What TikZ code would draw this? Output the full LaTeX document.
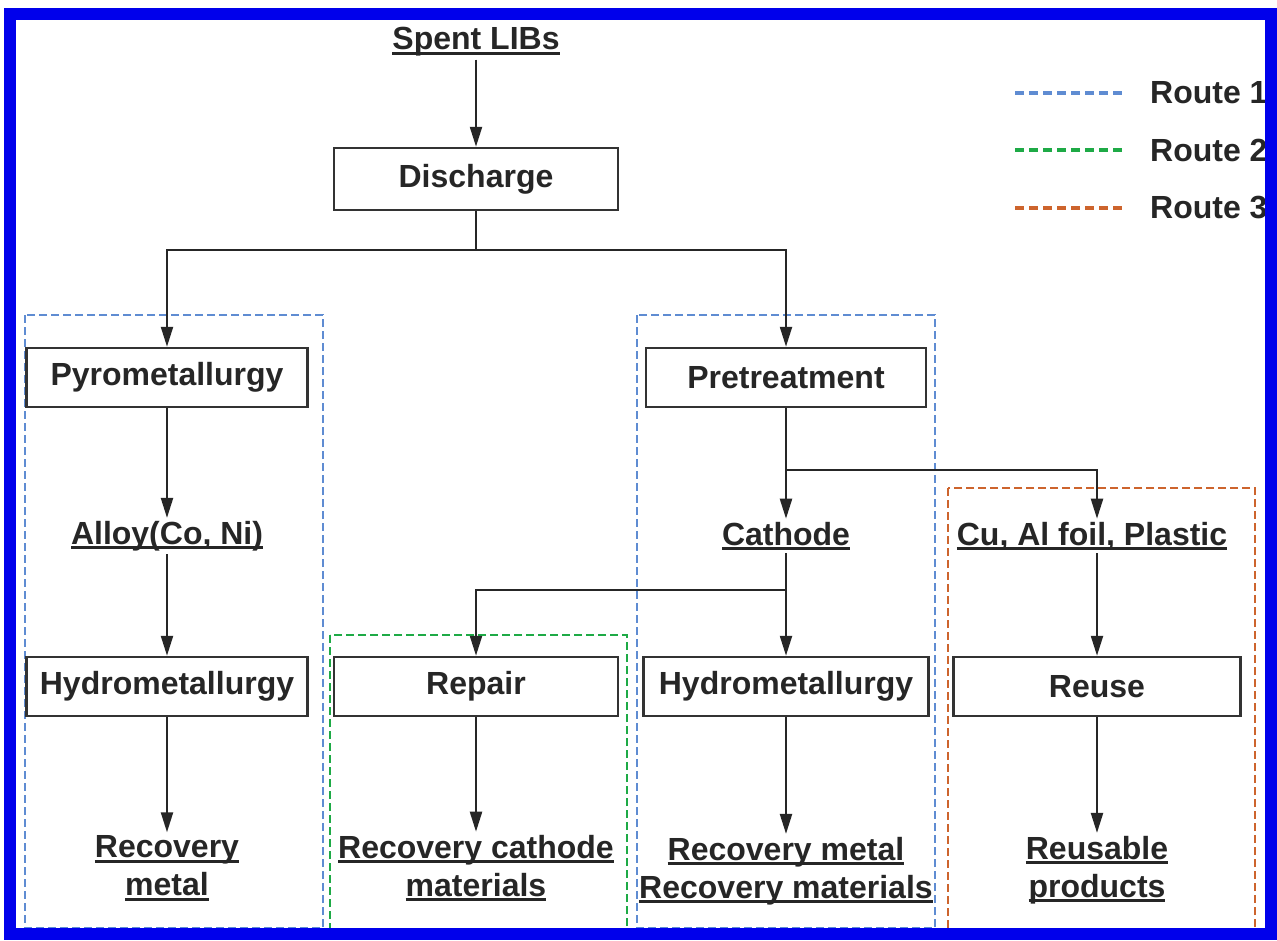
\documentclass[tikz,border=0pt]{standalone}
\usepackage{fontspec}
\setmainfont{Liberation Sans}
\usetikzlibrary{arrows.meta}
\definecolor{frameblue}{RGB}{0,0,235}
\definecolor{routeone}{RGB}{95,140,210}
\definecolor{routetwo}{RGB}{30,170,70}
\definecolor{routethree}{RGB}{205,100,45}
\newcommand\ultext[1]{\setbox0\hbox{#1}\rlap{\rule[-5pt]{\wd0}{2.8pt}}\box0}
\tikzset{
  every node/.style={font=\fontsize{32}{38}\selectfont\bfseries, text=black!85},
  stepbox/.style={draw=black!80, line width=2.5pt, minimum height=59pt, inner sep=0pt},
  label/.style={align=center, inner sep=3pt},
  arr/.style={draw=black!85, line width=2.2pt, -{Triangle[length=20pt,width=12pt]}},
  conn/.style={draw=black!85, line width=2.2pt},
  routebox/.style={line width=2.8pt, dash pattern=on 8pt off 4pt},
  legendline/.style={line width=3.5pt, dash pattern=on 9pt off 5pt},
}
\begin{document}
\begin{tikzpicture}[x=1pt,y=-1pt]
\useasboundingbox (0,0) rectangle (1277,940);
\fill[white] (0,0) rectangle (1277,940);

% route regions
\draw[routebox, routeone] (25,315) rectangle (323,928);
\draw[routebox, routeone] (637,315) rectangle (935,928);
\draw[routebox, routetwo] (330,635) rectangle (627,932);
\draw[routebox, routethree] (948,488) rectangle (1255,932);

% legend
\draw[legendline, routeone] (1015,93) -- (1125,93);
\draw[legendline, routetwo] (1015,150) -- (1125,150);
\draw[legendline, routethree] (1015,208) -- (1125,208);
\node[anchor=west, inner sep=0pt] (l1) at (1150,93) {Route 1};
\node[anchor=west, inner sep=0pt] (l2) at (1150,150) {Route 2};
\node[anchor=west, inner sep=0pt] (l3) at (1150,208) {Route 3};

% process steps
\node[label] (spent) at (476,42) {\ultext{Spent LIBs}};
\node[stepbox, minimum width=284pt, minimum height=62pt] (dis) at (476,179) {Discharge};
\node[stepbox, minimum width=281pt] (pyro) at (167,377.5) {Pyrometallurgy};
\node[label] (alloy) at (167,536) {\ultext{Alloy(Co, Ni)}};
\node[stepbox, minimum width=281pt] (hydA) at (167,686.5) {Hydrometallurgy};
\node[label] (recA) at (167,868) {\ultext{Recovery}\\\ultext{metal}};

\node[stepbox, minimum width=280pt] (pre) at (786,377.5) {Pretreatment};
\node[label] (cat) at (786,536) {\ultext{Cathode}};
\node[stepbox, minimum width=284pt] (rep) at (476,686.5) {Repair};
\node[label] (recB) at (476,868) {\ultext{Recovery cathode}\\\ultext{materials}};
\node[stepbox, minimum width=285pt] (hydB) at (786,686.5) {Hydrometallurgy};
\node[label] (recC) at (786,871) {\ultext{Recovery metal}\\\ultext{Recovery materials}};

\node[label] (cu) at (1092,536) {\ultext{Cu, Al foil, Plastic}};
\node[stepbox, minimum width=287pt] (reuse) at (1097,686.5) {Reuse};
\node[label] (recD) at (1097,870) {\ultext{Reusable}\\\ultext{products}};

% junctions
\coordinate (j1) at (476,250);
\coordinate (j2) at (786,470);
\coordinate (j3) at (786,590);

% connectors
\draw[arr] (spent.south) -- (dis.north);
\draw[conn] (dis.south) -- (j1);
\draw[arr] (j1) -| (pyro.north);
\draw[arr] (j1) -| (pre.north);
\draw[arr] (pyro.south) -- (alloy.north);
\draw[arr] (alloy.south) -- (hydA.north);
\draw[arr] (hydA.south) -- (recA.north);

\draw[conn] (pre.south) -- (j2);
\draw[arr] (j2) -- (cat.north);
\draw[arr] (j2) -| (reuse.north |- cu.north);
\draw[arr] (cat.south) -- (hydB.north);
\draw[arr] (j3) -| (rep.north);
\draw[arr] (hydB.south) -- (recC.north);
\draw[arr] (rep.south) -- (recB.north);
\draw[arr] (reuse.north |- cu.south) -- (reuse.north);
\draw[arr] (reuse.south) -- (recD.north);

% outer frame
\draw[frameblue, line width=12pt] (10,14) rectangle (1271,934);
\end{tikzpicture}
\end{document}
